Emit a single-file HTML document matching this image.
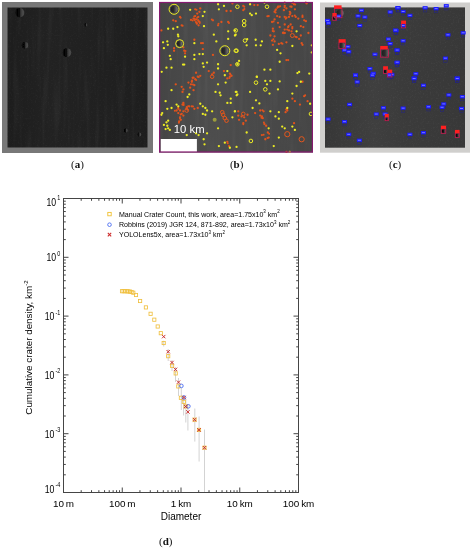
<!DOCTYPE html><html><head><meta charset="utf-8"><title>Crater figure</title><style>
html,body{margin:0;padding:0;background:#fff;}body{width:473px;height:550px;position:relative;overflow:hidden;}
svg{position:absolute;left:0;top:0;}
.cap{position:absolute;font-family:"Liberation Serif",serif;font-size:11px;color:#111;line-height:1;white-space:nowrap;}
.cap b{font-weight:bold;}
</style></head><body>
<svg width="473" height="550" viewBox="0 0 473 550">
<defs>
<radialGradient id="crA" cx="0.62" cy="0.5" r="0.6"><stop offset="0" stop-color="#5a5a5a"/><stop offset="0.55" stop-color="#3a3a3a"/><stop offset="1" stop-color="#232323" stop-opacity="0"/></radialGradient>
<linearGradient id="crS" x1="0" y1="0" x2="1" y2="0"><stop offset="0" stop-color="#141414"/><stop offset="0.2" stop-color="#050505"/><stop offset="0.45" stop-color="#0a0a0a"/><stop offset="0.6" stop-color="#363636"/><stop offset="0.85" stop-color="#4c4c4c"/><stop offset="1" stop-color="#404040"/></linearGradient>
<filter id="blur5" x="-30%" y="-30%" width="160%" height="160%"><feGaussianBlur stdDeviation="0.55"/></filter>
<linearGradient id="crC" x1="0" y1="0" x2="1" y2="0"><stop offset="0" stop-color="#000"/><stop offset="0.5" stop-color="#151515"/><stop offset="1" stop-color="#666"/></linearGradient>
<linearGradient id="crB" x1="0" y1="0" x2="1" y2="0"><stop offset="0" stop-color="#1e1e1e"/><stop offset="0.45" stop-color="#2c2c2c"/><stop offset="1" stop-color="#7a7a7a"/></linearGradient>
<linearGradient id="streakA" x1="0" y1="0" x2="1" y2="0"><stop offset="0" stop-color="#1d1d1d"/><stop offset="0.3" stop-color="#222"/><stop offset="0.5" stop-color="#212121"/><stop offset="0.7" stop-color="#202020"/><stop offset="1" stop-color="#1e1e1e"/></linearGradient>
<linearGradient id="streakB" x1="0" y1="0" x2="1" y2="0"><stop offset="0" stop-color="#454545"/><stop offset="0.35" stop-color="#4d4d4d"/><stop offset="0.55" stop-color="#4a4a4a"/><stop offset="1" stop-color="#464646"/></linearGradient>
<linearGradient id="streakC" x1="0" y1="0" x2="1" y2="0"><stop offset="0" stop-color="#373737"/><stop offset="0.35" stop-color="#3f3f3f"/><stop offset="0.55" stop-color="#3b3b3b"/><stop offset="1" stop-color="#383838"/></linearGradient>
<filter id="soft" x="-5%" y="-5%" width="110%" height="110%"><feGaussianBlur stdDeviation="0.35"/></filter>
<filter id="noiseV" x="0" y="0" width="100%" height="100%"><feTurbulence type="fractalNoise" baseFrequency="0.22 0.015" numOctaves="2" seed="3"/><feColorMatrix type="matrix" values="0 0 0 0 1  0 0 0 0 1  0 0 0 0 1  1.2 0 0 0 -0.55"/></filter>
<filter id="noiseF" x="0" y="0" width="100%" height="100%"><feTurbulence type="fractalNoise" baseFrequency="0.6" numOctaves="2" seed="9"/><feColorMatrix type="matrix" values="0 0 0 0 1  0 0 0 0 1  0 0 0 0 1  1.3 0 0 0 -0.7"/></filter>
</defs>
<rect x="2" y="2" width="151" height="151" fill="#787878"/>
<rect x="7.5" y="7.5" width="140" height="140" fill="url(#streakA)"/>
<rect x="7.5" y="7.5" width="140" height="140" filter="url(#noiseV)" opacity="0.07"/>
<rect x="7.5" y="7.5" width="140" height="140" filter="url(#noiseF)" opacity="0.08"/>
<circle cx="19.8" cy="12.7" r="4.6" fill="url(#crS)" filter="url(#blur5)"/>
<circle cx="25" cy="45.3" r="3.2" fill="url(#crS)" filter="url(#blur5)"/>
<circle cx="66.9" cy="52.6" r="4.4" fill="url(#crS)" filter="url(#blur5)"/>
<circle cx="85.7" cy="24.8" r="1.6" fill="url(#crS)" filter="url(#blur5)"/>
<circle cx="125.7" cy="130.4" r="2" fill="url(#crS)" filter="url(#blur5)"/>
<circle cx="139.2" cy="134.6" r="2" fill="url(#crS)" filter="url(#blur5)"/>
<rect x="159" y="2" width="154" height="150.5" fill="url(#streakB)"/>
<rect x="159" y="2" width="154" height="150.5" filter="url(#noiseV)" opacity="0.07"/>
<circle cx="174.1" cy="9.3" r="3.4" fill="url(#crB)"/>
<circle cx="179.6" cy="43.6" r="2.6" fill="url(#crB)"/>
<circle cx="224.8" cy="50.8" r="3.4" fill="url(#crB)"/>
<g filter="url(#soft)">
<circle cx="200.28" cy="8.46" r="1.15" fill="#e0521c"/>
<circle cx="199.44" cy="11.84" r="1.15" fill="#e0521c"/>
<circle cx="195.21" cy="9.3" r="1.15" fill="#e0521c"/>
<circle cx="196.52" cy="9.8" r="1.0" fill="#e0521c"/>
<circle cx="195.21" cy="16.07" r="1.15" fill="#e0521c"/>
<circle cx="194.24" cy="16.5" r="1.0" fill="#e0521c"/>
<circle cx="196.05" cy="19.45" r="1.15" fill="#e0521c"/>
<circle cx="194.58" cy="20.21" r="1.0" fill="#e0521c"/>
<circle cx="196.9" cy="23.68" r="1.15" fill="#e0521c"/>
<circle cx="198.59" cy="25.37" r="1.15" fill="#e0521c"/>
<circle cx="190.98" cy="19.96" r="1.15" fill="#e0521c"/>
<circle cx="192.6" cy="20.44" r="1.0" fill="#e0521c"/>
<circle cx="179.99" cy="16.91" r="1.15" fill="#e0521c"/>
<circle cx="180.66" cy="17.77" r="1.0" fill="#e0521c"/>
<circle cx="175.76" cy="21.14" r="1.15" fill="#e0521c"/>
<circle cx="173.22" cy="20.3" r="1.15" fill="#e0521c"/>
<circle cx="181.68" cy="25.37" r="1.15" fill="#e0521c"/>
<circle cx="182.65" cy="25.77" r="1.0" fill="#e0521c"/>
<circle cx="198.59" cy="21.14" r="1.15" fill="#e0521c"/>
<circle cx="198.02" cy="19.93" r="1.0" fill="#e0521c"/>
<circle cx="212.97" cy="20.3" r="1.15" fill="#e0521c"/>
<circle cx="211.8" cy="19.6" r="1.0" fill="#e0521c"/>
<circle cx="218.04" cy="25.37" r="1.15" fill="#e0521c"/>
<circle cx="218.47" cy="23.87" r="1.0" fill="#e0521c"/>
<circle cx="221.42" cy="21.99" r="1.15" fill="#e0521c"/>
<circle cx="226.5" cy="10.99" r="1.15" fill="#e0521c"/>
<circle cx="230.73" cy="10.99" r="1.15" fill="#e0521c"/>
<circle cx="228.19" cy="21.99" r="1.15" fill="#e0521c"/>
<circle cx="228.99" cy="23.12" r="1.0" fill="#e0521c"/>
<circle cx="194.36" cy="39.75" r="1.15" fill="#e0521c"/>
<circle cx="201.13" cy="43.13" r="1.15" fill="#e0521c"/>
<circle cx="202.82" cy="43.13" r="1.15" fill="#e0521c"/>
<circle cx="202.82" cy="49.05" r="1.15" fill="#e0521c"/>
<circle cx="174.07" cy="48.2" r="1.15" fill="#e0521c"/>
<circle cx="174.07" cy="50.74" r="1.15" fill="#e0521c"/>
<circle cx="183.37" cy="47.36" r="1.15" fill="#e0521c"/>
<circle cx="184.22" cy="50.74" r="1.15" fill="#e0521c"/>
<circle cx="185.57" cy="50.93" r="1.0" fill="#e0521c"/>
<circle cx="185.06" cy="53.28" r="1.15" fill="#e0521c"/>
<circle cx="212.97" cy="54.97" r="1.15" fill="#e0521c"/>
<circle cx="208.74" cy="71.04" r="1.15" fill="#e0521c"/>
<circle cx="212.12" cy="74.42" r="1.15" fill="#e0521c"/>
<circle cx="213.81" cy="72.73" r="1.15" fill="#e0521c"/>
<circle cx="223.96" cy="71.04" r="1.15" fill="#e0521c"/>
<circle cx="229.88" cy="73.57" r="1.15" fill="#e0521c"/>
<circle cx="230.55" cy="74.5" r="1.0" fill="#e0521c"/>
<circle cx="230.73" cy="65.12" r="1.15" fill="#e0521c"/>
<circle cx="196.05" cy="72.73" r="1.15" fill="#e0521c"/>
<circle cx="192.67" cy="77.8" r="1.15" fill="#e0521c"/>
<circle cx="232.42" cy="3.38" r="1.15" fill="#e0521c"/>
<circle cx="161.38" cy="30.44" r="1.15" fill="#e0521c"/>
<circle cx="197.24" cy="13.53" r="1.15" fill="#e0521c"/>
<circle cx="198.25" cy="16.91" r="1.15" fill="#e0521c"/>
<circle cx="197.22" cy="17.74" r="1.0" fill="#e0521c"/>
<circle cx="196.56" cy="22.83" r="1.15" fill="#e0521c"/>
<circle cx="195.86" cy="22.05" r="1.0" fill="#e0521c"/>
<circle cx="199.44" cy="21.99" r="1.15" fill="#e0521c"/>
<circle cx="199.73" cy="23.08" r="1.0" fill="#e0521c"/>
<circle cx="193.52" cy="18.6" r="1.15" fill="#e0521c"/>
<circle cx="194.46" cy="18.93" r="1.0" fill="#e0521c"/>
<circle cx="243.3" cy="5.92" r="1.15" fill="#e0521c"/>
<circle cx="244.34" cy="6.69" r="1.0" fill="#e0521c"/>
<circle cx="243.3" cy="10.15" r="1.15" fill="#e0521c"/>
<circle cx="244.35" cy="9.09" r="1.0" fill="#e0521c"/>
<circle cx="254.3" cy="5.07" r="1.15" fill="#e0521c"/>
<circle cx="257.68" cy="5.07" r="1.15" fill="#e0521c"/>
<circle cx="268.67" cy="16.07" r="1.15" fill="#e0521c"/>
<circle cx="267.32" cy="16.36" r="1.0" fill="#e0521c"/>
<circle cx="274.59" cy="11.84" r="1.15" fill="#e0521c"/>
<circle cx="275.61" cy="12.6" r="1.0" fill="#e0521c"/>
<circle cx="275.44" cy="10.15" r="1.15" fill="#e0521c"/>
<circle cx="275.97" cy="9.15" r="1.0" fill="#e0521c"/>
<circle cx="278.82" cy="6.77" r="1.15" fill="#e0521c"/>
<circle cx="280.18" cy="6.33" r="1.0" fill="#e0521c"/>
<circle cx="279.67" cy="16.91" r="1.15" fill="#e0521c"/>
<circle cx="277.13" cy="16.07" r="1.15" fill="#e0521c"/>
<circle cx="284.74" cy="5.92" r="1.15" fill="#e0521c"/>
<circle cx="284.65" cy="7.21" r="1.0" fill="#e0521c"/>
<circle cx="286.43" cy="8.46" r="1.15" fill="#e0521c"/>
<circle cx="283.89" cy="10.15" r="1.15" fill="#e0521c"/>
<circle cx="289.81" cy="11.84" r="1.15" fill="#e0521c"/>
<circle cx="289.81" cy="14.38" r="1.15" fill="#e0521c"/>
<circle cx="290.48" cy="12.93" r="1.0" fill="#e0521c"/>
<circle cx="291.51" cy="6.77" r="1.15" fill="#e0521c"/>
<circle cx="290.23" cy="6.62" r="1.0" fill="#e0521c"/>
<circle cx="294.04" cy="4.23" r="1.15" fill="#e0521c"/>
<circle cx="295.25" cy="4.44" r="1.0" fill="#e0521c"/>
<circle cx="294.89" cy="9.3" r="1.15" fill="#e0521c"/>
<circle cx="284.74" cy="16.91" r="1.15" fill="#e0521c"/>
<circle cx="286.43" cy="17.76" r="1.15" fill="#e0521c"/>
<circle cx="285.66" cy="18.64" r="1.0" fill="#e0521c"/>
<circle cx="288.97" cy="16.91" r="1.15" fill="#e0521c"/>
<circle cx="292.35" cy="16.07" r="1.15" fill="#e0521c"/>
<circle cx="295.73" cy="16.91" r="1.15" fill="#e0521c"/>
<circle cx="294.79" cy="15.57" r="1.0" fill="#e0521c"/>
<circle cx="298.27" cy="18.6" r="1.15" fill="#e0521c"/>
<circle cx="302.5" cy="16.91" r="1.15" fill="#e0521c"/>
<circle cx="302.5" cy="15.53" r="1.0" fill="#e0521c"/>
<circle cx="304.19" cy="20.3" r="1.15" fill="#e0521c"/>
<circle cx="305.88" cy="21.14" r="1.15" fill="#e0521c"/>
<circle cx="272.05" cy="21.99" r="1.15" fill="#e0521c"/>
<circle cx="273.55" cy="21.47" r="1.0" fill="#e0521c"/>
<circle cx="274.59" cy="19.45" r="1.15" fill="#e0521c"/>
<circle cx="277.97" cy="22.83" r="1.15" fill="#e0521c"/>
<circle cx="272.9" cy="28.75" r="1.15" fill="#e0521c"/>
<circle cx="273.75" cy="31.29" r="1.15" fill="#e0521c"/>
<circle cx="272.69" cy="30.96" r="1.0" fill="#e0521c"/>
<circle cx="279.67" cy="27.06" r="1.15" fill="#e0521c"/>
<circle cx="284.74" cy="24.52" r="1.15" fill="#e0521c"/>
<circle cx="288.12" cy="27.06" r="1.15" fill="#e0521c"/>
<circle cx="288.66" cy="26.02" r="1.0" fill="#e0521c"/>
<circle cx="290.66" cy="24.52" r="1.15" fill="#e0521c"/>
<circle cx="292.35" cy="27.06" r="1.15" fill="#e0521c"/>
<circle cx="292.27" cy="28.39" r="1.0" fill="#e0521c"/>
<circle cx="300.81" cy="26.22" r="1.15" fill="#e0521c"/>
<circle cx="303.34" cy="27.06" r="1.15" fill="#e0521c"/>
<circle cx="284.74" cy="29.6" r="1.15" fill="#e0521c"/>
<circle cx="287.28" cy="29.6" r="1.15" fill="#e0521c"/>
<circle cx="288.97" cy="30.44" r="1.15" fill="#e0521c"/>
<circle cx="291.51" cy="31.29" r="1.15" fill="#e0521c"/>
<circle cx="283.05" cy="32.98" r="1.15" fill="#e0521c"/>
<circle cx="284.74" cy="32.98" r="1.15" fill="#e0521c"/>
<circle cx="283.21" cy="32.43" r="1.0" fill="#e0521c"/>
<circle cx="296.58" cy="37.21" r="1.15" fill="#e0521c"/>
<circle cx="295.47" cy="36.77" r="1.0" fill="#e0521c"/>
<circle cx="299.12" cy="38.9" r="1.15" fill="#e0521c"/>
<circle cx="300.81" cy="35.52" r="1.15" fill="#e0521c"/>
<circle cx="308.42" cy="32.98" r="1.15" fill="#e0521c"/>
<circle cx="270.36" cy="35.52" r="1.15" fill="#e0521c"/>
<circle cx="274.59" cy="36.36" r="1.15" fill="#e0521c"/>
<circle cx="272.05" cy="40.59" r="1.15" fill="#e0521c"/>
<circle cx="273.31" cy="39.36" r="1.0" fill="#e0521c"/>
<circle cx="274.59" cy="41.44" r="1.15" fill="#e0521c"/>
<circle cx="278.82" cy="43.97" r="1.15" fill="#e0521c"/>
<circle cx="281.36" cy="43.13" r="1.15" fill="#e0521c"/>
<circle cx="282.43" cy="43.65" r="1.0" fill="#e0521c"/>
<circle cx="286.43" cy="42.28" r="1.15" fill="#e0521c"/>
<circle cx="272.9" cy="44.82" r="1.15" fill="#e0521c"/>
<circle cx="288.12" cy="60.04" r="1.15" fill="#e0521c"/>
<circle cx="286.43" cy="60.04" r="1.15" fill="#e0521c"/>
<circle cx="301.65" cy="43.13" r="1.15" fill="#e0521c"/>
<circle cx="302.5" cy="44.82" r="1.15" fill="#e0521c"/>
<circle cx="277.97" cy="6.77" r="1.15" fill="#e0521c"/>
<circle cx="277.36" cy="7.75" r="1.0" fill="#e0521c"/>
<circle cx="284.74" cy="2.54" r="1.15" fill="#e0521c"/>
<circle cx="293.2" cy="2.54" r="1.15" fill="#e0521c"/>
<circle cx="292.25" cy="2.91" r="1.0" fill="#e0521c"/>
<circle cx="306.73" cy="3.38" r="1.15" fill="#e0521c"/>
<circle cx="305.72" cy="2.39" r="1.0" fill="#e0521c"/>
<circle cx="193.52" cy="77.54" r="1.15" fill="#e0521c"/>
<circle cx="195.21" cy="79.23" r="1.15" fill="#e0521c"/>
<circle cx="196.17" cy="79.97" r="1.0" fill="#e0521c"/>
<circle cx="191.83" cy="81.77" r="1.15" fill="#e0521c"/>
<circle cx="192.05" cy="80.57" r="1.0" fill="#e0521c"/>
<circle cx="188.44" cy="82.61" r="1.15" fill="#e0521c"/>
<circle cx="190.98" cy="84.3" r="1.15" fill="#e0521c"/>
<circle cx="194.36" cy="85.15" r="1.15" fill="#e0521c"/>
<circle cx="192.95" cy="84.48" r="1.0" fill="#e0521c"/>
<circle cx="190.14" cy="87.68" r="1.15" fill="#e0521c"/>
<circle cx="193.52" cy="90.22" r="1.15" fill="#e0521c"/>
<circle cx="181.68" cy="86.84" r="1.15" fill="#e0521c"/>
<circle cx="183.37" cy="89.38" r="1.15" fill="#e0521c"/>
<circle cx="182.52" cy="91.91" r="1.15" fill="#e0521c"/>
<circle cx="175.76" cy="84.3" r="1.15" fill="#e0521c"/>
<circle cx="183.37" cy="102.91" r="1.15" fill="#e0521c"/>
<circle cx="183.45" cy="103.99" r="1.0" fill="#e0521c"/>
<circle cx="182.52" cy="104.6" r="1.15" fill="#e0521c"/>
<circle cx="183.63" cy="104.96" r="1.0" fill="#e0521c"/>
<circle cx="186.75" cy="107.14" r="1.15" fill="#e0521c"/>
<circle cx="186.21" cy="108.65" r="1.0" fill="#e0521c"/>
<circle cx="189.29" cy="106.29" r="1.15" fill="#e0521c"/>
<circle cx="188.15" cy="106.29" r="1.0" fill="#e0521c"/>
<circle cx="191.83" cy="106.29" r="1.15" fill="#e0521c"/>
<circle cx="193.02" cy="106.43" r="1.0" fill="#e0521c"/>
<circle cx="178.3" cy="108.83" r="1.15" fill="#e0521c"/>
<circle cx="178.14" cy="107.39" r="1.0" fill="#e0521c"/>
<circle cx="176.6" cy="110.52" r="1.15" fill="#e0521c"/>
<circle cx="174.88" cy="110.79" r="1.0" fill="#e0521c"/>
<circle cx="179.99" cy="110.52" r="1.15" fill="#e0521c"/>
<circle cx="183.37" cy="111.36" r="1.15" fill="#e0521c"/>
<circle cx="187.6" cy="109.67" r="1.15" fill="#e0521c"/>
<circle cx="186.92" cy="108.02" r="1.0" fill="#e0521c"/>
<circle cx="178.3" cy="113.05" r="1.15" fill="#e0521c"/>
<circle cx="181.68" cy="113.9" r="1.15" fill="#e0521c"/>
<circle cx="180.62" cy="114.62" r="1.0" fill="#e0521c"/>
<circle cx="183.37" cy="115.59" r="1.15" fill="#e0521c"/>
<circle cx="179.99" cy="117.28" r="1.15" fill="#e0521c"/>
<circle cx="179.95" cy="118.41" r="1.0" fill="#e0521c"/>
<circle cx="180.83" cy="119.82" r="1.15" fill="#e0521c"/>
<circle cx="179.14" cy="121.51" r="1.15" fill="#e0521c"/>
<circle cx="178.9" cy="122.68" r="1.0" fill="#e0521c"/>
<circle cx="194.36" cy="108.83" r="1.15" fill="#e0521c"/>
<circle cx="197.75" cy="107.98" r="1.15" fill="#e0521c"/>
<circle cx="227.34" cy="78.38" r="1.15" fill="#e0521c"/>
<circle cx="229.88" cy="76.69" r="1.15" fill="#e0521c"/>
<circle cx="229.41" cy="77.89" r="1.0" fill="#e0521c"/>
<circle cx="231.57" cy="75.85" r="1.15" fill="#e0521c"/>
<circle cx="227.34" cy="141.81" r="1.15" fill="#e0521c"/>
<circle cx="227.77" cy="143.15" r="1.0" fill="#e0521c"/>
<circle cx="229.04" cy="146.04" r="1.15" fill="#e0521c"/>
<circle cx="197.75" cy="76.69" r="1.15" fill="#e0521c"/>
<circle cx="198.73" cy="76.95" r="1.0" fill="#e0521c"/>
<circle cx="200.28" cy="75.85" r="1.15" fill="#e0521c"/>
<circle cx="302.5" cy="81.77" r="1.15" fill="#e0521c"/>
<circle cx="304.19" cy="96.14" r="1.15" fill="#e0521c"/>
<circle cx="305.14" cy="95.24" r="1.0" fill="#e0521c"/>
<circle cx="307.57" cy="101.22" r="1.15" fill="#e0521c"/>
<circle cx="292.35" cy="98.68" r="1.15" fill="#e0521c"/>
<circle cx="294.89" cy="101.22" r="1.15" fill="#e0521c"/>
<circle cx="299.96" cy="104.6" r="1.15" fill="#e0521c"/>
<circle cx="286.43" cy="109.67" r="1.15" fill="#e0521c"/>
<circle cx="285.59" cy="112.21" r="1.15" fill="#e0521c"/>
<circle cx="287.28" cy="110.52" r="1.15" fill="#e0521c"/>
<circle cx="286.64" cy="109.1" r="1.0" fill="#e0521c"/>
<circle cx="238.23" cy="111.36" r="1.15" fill="#e0521c"/>
<circle cx="238.23" cy="115.59" r="1.15" fill="#e0521c"/>
<circle cx="239.07" cy="119.82" r="1.15" fill="#e0521c"/>
<circle cx="241.61" cy="116.44" r="1.15" fill="#e0521c"/>
<circle cx="244.15" cy="117.28" r="1.15" fill="#e0521c"/>
<circle cx="245.84" cy="120.67" r="1.15" fill="#e0521c"/>
<circle cx="243.3" cy="123.2" r="1.15" fill="#e0521c"/>
<circle cx="243.29" cy="124.26" r="1.0" fill="#e0521c"/>
<circle cx="247.53" cy="114.75" r="1.15" fill="#e0521c"/>
<circle cx="255.14" cy="113.05" r="1.15" fill="#e0521c"/>
<circle cx="260.22" cy="110.52" r="1.15" fill="#e0521c"/>
<circle cx="263.6" cy="111.36" r="1.15" fill="#e0521c"/>
<circle cx="262.47" cy="110.35" r="1.0" fill="#e0521c"/>
<circle cx="260.22" cy="115.59" r="1.15" fill="#e0521c"/>
<circle cx="261.91" cy="116.44" r="1.15" fill="#e0521c"/>
<circle cx="261.42" cy="117.81" r="1.0" fill="#e0521c"/>
<circle cx="262.75" cy="118.13" r="1.15" fill="#e0521c"/>
<circle cx="264.44" cy="124.05" r="1.15" fill="#e0521c"/>
<circle cx="263.9" cy="122.61" r="1.0" fill="#e0521c"/>
<circle cx="266.14" cy="125.74" r="1.15" fill="#e0521c"/>
<circle cx="267.83" cy="132.51" r="1.15" fill="#e0521c"/>
<circle cx="269.09" cy="133.67" r="1.0" fill="#e0521c"/>
<circle cx="261.91" cy="135.04" r="1.15" fill="#e0521c"/>
<circle cx="263.64" cy="134.8" r="1.0" fill="#e0521c"/>
<circle cx="265.29" cy="139.27" r="1.15" fill="#e0521c"/>
<circle cx="268.67" cy="137.58" r="1.15" fill="#e0521c"/>
<circle cx="267.52" cy="137.96" r="1.0" fill="#e0521c"/>
<circle cx="294.04" cy="123.2" r="1.15" fill="#e0521c"/>
<circle cx="286.43" cy="151.96" r="1.15" fill="#e0521c"/>
<circle cx="190.14" cy="9.81" r="1.15" fill="#ecec24"/>
<circle cx="204.51" cy="11.84" r="1.15" fill="#ecec24"/>
<circle cx="202.82" cy="16.07" r="1.15" fill="#ecec24"/>
<circle cx="218.04" cy="4.23" r="1.15" fill="#ecec24"/>
<circle cx="223.96" cy="5.92" r="1.15" fill="#ecec24"/>
<circle cx="218.89" cy="9.3" r="1.15" fill="#ecec24"/>
<circle cx="204" cy="26.22" r="1.15" fill="#ecec24"/>
<circle cx="168.15" cy="28.75" r="1.15" fill="#ecec24"/>
<circle cx="173.22" cy="28.75" r="1.15" fill="#ecec24"/>
<circle cx="177.45" cy="27.06" r="1.15" fill="#ecec24"/>
<circle cx="177.96" cy="34.67" r="1.15" fill="#ecec24"/>
<circle cx="178.3" cy="36.36" r="1.15" fill="#ecec24"/>
<circle cx="163.07" cy="42.28" r="1.15" fill="#ecec24"/>
<circle cx="167.3" cy="41.44" r="1.15" fill="#ecec24"/>
<circle cx="163.92" cy="48.2" r="1.15" fill="#ecec24"/>
<circle cx="167.81" cy="44.82" r="1.15" fill="#ecec24"/>
<circle cx="194.36" cy="43.13" r="1.15" fill="#ecec24"/>
<circle cx="213.81" cy="34.67" r="1.15" fill="#ecec24"/>
<circle cx="216.35" cy="41.44" r="1.15" fill="#ecec24"/>
<circle cx="228.19" cy="31.29" r="1.15" fill="#ecec24"/>
<circle cx="234.96" cy="30.44" r="1.15" fill="#ecec24"/>
<circle cx="228.19" cy="38.9" r="1.15" fill="#ecec24"/>
<circle cx="234.96" cy="35.52" r="1.15" fill="#ecec24"/>
<circle cx="169.84" cy="55.81" r="1.15" fill="#ecec24"/>
<circle cx="170.68" cy="59.2" r="1.15" fill="#ecec24"/>
<circle cx="185.06" cy="56.66" r="1.15" fill="#ecec24"/>
<circle cx="194.36" cy="54.97" r="1.15" fill="#ecec24"/>
<circle cx="202.82" cy="54.12" r="1.15" fill="#ecec24"/>
<circle cx="199.44" cy="54.12" r="1.15" fill="#ecec24"/>
<circle cx="194.36" cy="59.2" r="1.15" fill="#ecec24"/>
<circle cx="207.05" cy="62.58" r="1.15" fill="#ecec24"/>
<circle cx="202.82" cy="63.42" r="1.15" fill="#ecec24"/>
<circle cx="183.03" cy="64.61" r="1.15" fill="#ecec24"/>
<circle cx="184.22" cy="64.61" r="1.15" fill="#ecec24"/>
<circle cx="218.04" cy="64.27" r="1.15" fill="#ecec24"/>
<circle cx="218.04" cy="68.5" r="1.15" fill="#ecec24"/>
<circle cx="237.49" cy="64.27" r="1.15" fill="#ecec24"/>
<circle cx="166.46" cy="67.65" r="1.15" fill="#ecec24"/>
<circle cx="171.53" cy="67.65" r="1.15" fill="#ecec24"/>
<circle cx="203.67" cy="66.81" r="1.15" fill="#ecec24"/>
<circle cx="227.34" cy="71.04" r="1.15" fill="#ecec24"/>
<circle cx="224.81" cy="75.26" r="1.15" fill="#ecec24"/>
<circle cx="161.7" cy="71.8" r="1.15" fill="#ecec24"/>
<circle cx="250.07" cy="4.23" r="1.15" fill="#ecec24"/>
<circle cx="250.07" cy="13.53" r="1.15" fill="#ecec24"/>
<circle cx="251.76" cy="15.22" r="1.15" fill="#ecec24"/>
<circle cx="255.99" cy="13.53" r="1.15" fill="#ecec24"/>
<circle cx="235.69" cy="34.67" r="1.15" fill="#ecec24"/>
<circle cx="247.19" cy="39.24" r="1.15" fill="#ecec24"/>
<circle cx="255.65" cy="39.75" r="1.15" fill="#ecec24"/>
<circle cx="261.91" cy="41.44" r="1.15" fill="#ecec24"/>
<circle cx="246.68" cy="45.33" r="1.15" fill="#ecec24"/>
<circle cx="255.99" cy="45.33" r="1.15" fill="#ecec24"/>
<circle cx="260.72" cy="45.33" r="1.15" fill="#ecec24"/>
<circle cx="277.13" cy="49.89" r="1.15" fill="#ecec24"/>
<circle cx="280.51" cy="53.28" r="1.15" fill="#ecec24"/>
<circle cx="239.07" cy="60.89" r="1.15" fill="#ecec24"/>
<circle cx="279.67" cy="61.73" r="1.15" fill="#ecec24"/>
<circle cx="292.35" cy="46" r="1.15" fill="#ecec24"/>
<circle cx="296.58" cy="31.29" r="1.15" fill="#ecec24"/>
<circle cx="311.8" cy="45.33" r="1.15" fill="#ecec24"/>
<circle cx="311.8" cy="52.43" r="1.15" fill="#ecec24"/>
<circle cx="264.44" cy="69.68" r="1.15" fill="#ecec24"/>
<circle cx="270.36" cy="69.68" r="1.15" fill="#ecec24"/>
<circle cx="297.42" cy="73.07" r="1.15" fill="#ecec24"/>
<circle cx="299.12" cy="71.88" r="1.15" fill="#ecec24"/>
<circle cx="309.26" cy="73.57" r="1.15" fill="#ecec24"/>
<circle cx="256.83" cy="76.96" r="1.15" fill="#ecec24"/>
<circle cx="264.44" cy="2.54" r="1.15" fill="#ecec24"/>
<circle cx="171.53" cy="90.22" r="1.15" fill="#ecec24"/>
<circle cx="165.61" cy="101.22" r="1.15" fill="#ecec24"/>
<circle cx="187.6" cy="96.99" r="1.15" fill="#ecec24"/>
<circle cx="189.29" cy="94.45" r="1.15" fill="#ecec24"/>
<circle cx="176.6" cy="104.6" r="1.15" fill="#ecec24"/>
<circle cx="178.3" cy="106.29" r="1.15" fill="#ecec24"/>
<circle cx="200.28" cy="103.75" r="1.15" fill="#ecec24"/>
<circle cx="202.82" cy="106.29" r="1.15" fill="#ecec24"/>
<circle cx="205.36" cy="107.98" r="1.15" fill="#ecec24"/>
<circle cx="207.05" cy="110.52" r="1.15" fill="#ecec24"/>
<circle cx="212.12" cy="111.36" r="1.15" fill="#ecec24"/>
<circle cx="167.3" cy="108.83" r="1.15" fill="#ecec24"/>
<circle cx="171.53" cy="107.98" r="1.15" fill="#ecec24"/>
<circle cx="162.23" cy="113.05" r="1.15" fill="#ecec24"/>
<circle cx="161.38" cy="114.75" r="1.15" fill="#ecec24"/>
<circle cx="202.82" cy="113.9" r="1.15" fill="#ecec24"/>
<circle cx="205.36" cy="114.75" r="1.15" fill="#ecec24"/>
<circle cx="168.15" cy="120.67" r="1.15" fill="#ecec24"/>
<circle cx="166.46" cy="122.36" r="1.15" fill="#ecec24"/>
<circle cx="163.92" cy="124.89" r="1.15" fill="#ecec24"/>
<circle cx="167.3" cy="125.74" r="1.15" fill="#ecec24"/>
<circle cx="165.61" cy="129.12" r="1.15" fill="#ecec24"/>
<circle cx="168.15" cy="128.28" r="1.15" fill="#ecec24"/>
<circle cx="169.84" cy="129.97" r="1.15" fill="#ecec24"/>
<circle cx="218.04" cy="84.3" r="1.15" fill="#ecec24"/>
<circle cx="225.65" cy="82.61" r="1.15" fill="#ecec24"/>
<circle cx="215.51" cy="91.91" r="1.15" fill="#ecec24"/>
<circle cx="219.73" cy="92.76" r="1.15" fill="#ecec24"/>
<circle cx="220.58" cy="95.3" r="1.15" fill="#ecec24"/>
<circle cx="235.8" cy="91.91" r="1.15" fill="#ecec24"/>
<circle cx="236.65" cy="95.3" r="1.15" fill="#ecec24"/>
<circle cx="230.73" cy="98.68" r="1.15" fill="#ecec24"/>
<circle cx="227.34" cy="102.91" r="1.15" fill="#ecec24"/>
<circle cx="230.73" cy="102.91" r="1.15" fill="#ecec24"/>
<circle cx="232.42" cy="117.28" r="1.15" fill="#ecec24"/>
<circle cx="234.96" cy="111.36" r="1.15" fill="#ecec24"/>
<circle cx="218.04" cy="128.28" r="1.15" fill="#ecec24"/>
<circle cx="196.05" cy="133.35" r="1.15" fill="#ecec24"/>
<circle cx="198.59" cy="135.04" r="1.15" fill="#ecec24"/>
<circle cx="207.05" cy="133.35" r="1.15" fill="#ecec24"/>
<circle cx="203.67" cy="139.27" r="1.15" fill="#ecec24"/>
<circle cx="204.51" cy="144.34" r="1.15" fill="#ecec24"/>
<circle cx="218.89" cy="146.04" r="1.15" fill="#ecec24"/>
<circle cx="224.81" cy="142.65" r="1.15" fill="#ecec24"/>
<circle cx="229.88" cy="147.73" r="1.15" fill="#ecec24"/>
<circle cx="186.75" cy="135.04" r="1.15" fill="#ecec24"/>
<circle cx="256.83" cy="76.69" r="1.15" fill="#ecec24"/>
<circle cx="265.29" cy="80.92" r="1.15" fill="#ecec24"/>
<circle cx="270.36" cy="80.92" r="1.15" fill="#ecec24"/>
<circle cx="279.67" cy="81.43" r="1.15" fill="#ecec24"/>
<circle cx="266.98" cy="84.3" r="1.15" fill="#ecec24"/>
<circle cx="269.52" cy="93.6" r="1.15" fill="#ecec24"/>
<circle cx="250.07" cy="91.91" r="1.15" fill="#ecec24"/>
<circle cx="236.54" cy="91.91" r="1.15" fill="#ecec24"/>
<circle cx="237.38" cy="94.45" r="1.15" fill="#ecec24"/>
<circle cx="277.97" cy="89.38" r="1.15" fill="#ecec24"/>
<circle cx="255.99" cy="100.37" r="1.15" fill="#ecec24"/>
<circle cx="259.37" cy="103.41" r="1.15" fill="#ecec24"/>
<circle cx="252.6" cy="107.98" r="1.15" fill="#ecec24"/>
<circle cx="270.36" cy="111.36" r="1.15" fill="#ecec24"/>
<circle cx="275.44" cy="116.44" r="1.15" fill="#ecec24"/>
<circle cx="278.82" cy="112.21" r="1.15" fill="#ecec24"/>
<circle cx="278.82" cy="118.64" r="1.15" fill="#ecec24"/>
<circle cx="234.85" cy="111.36" r="1.15" fill="#ecec24"/>
<circle cx="287.28" cy="101.22" r="1.15" fill="#ecec24"/>
<circle cx="292.35" cy="93.6" r="1.15" fill="#ecec24"/>
<circle cx="287.28" cy="107.98" r="1.15" fill="#ecec24"/>
<circle cx="296.58" cy="85.99" r="1.15" fill="#ecec24"/>
<circle cx="300.81" cy="81.77" r="1.15" fill="#ecec24"/>
<circle cx="310.11" cy="103.75" r="1.15" fill="#ecec24"/>
<circle cx="284.74" cy="128.28" r="1.15" fill="#ecec24"/>
<circle cx="282.2" cy="126.59" r="1.15" fill="#ecec24"/>
<circle cx="292.35" cy="126.59" r="1.15" fill="#ecec24"/>
<circle cx="294.89" cy="129.97" r="1.15" fill="#ecec24"/>
<circle cx="268.67" cy="128.28" r="1.15" fill="#ecec24"/>
<circle cx="246.68" cy="132.51" r="1.15" fill="#ecec24"/>
<circle cx="236.54" cy="146.88" r="1.15" fill="#ecec24"/>
<circle cx="273.75" cy="146.04" r="1.15" fill="#ecec24"/>
<circle cx="278.82" cy="137.58" r="1.15" fill="#ecec24"/>
<circle cx="289.81" cy="151.96" r="1.15" fill="#ecec24"/>
<circle cx="174.07" cy="9.3" r="5" fill="none" stroke="#ecec24" stroke-width="1.0"/>
<circle cx="179.65" cy="43.64" r="4" fill="none" stroke="#ecec24" stroke-width="1.0"/>
<circle cx="224.81" cy="50.74" r="5" fill="none" stroke="#ecec24" stroke-width="1.0"/>
<circle cx="235.8" cy="50.74" r="1.8" fill="none" stroke="#ecec24" stroke-width="1.0"/>
<circle cx="237.38" cy="6.77" r="1.8" fill="none" stroke="#ecec24" stroke-width="1.0"/>
<circle cx="266.98" cy="6.77" r="1.8" fill="none" stroke="#ecec24" stroke-width="1.0"/>
<circle cx="244.15" cy="21.14" r="1.8" fill="none" stroke="#ecec24" stroke-width="1.0"/>
<circle cx="244.15" cy="25.03" r="1.8" fill="none" stroke="#ecec24" stroke-width="1.0"/>
<circle cx="235.69" cy="30.44" r="1.8" fill="none" stroke="#ecec24" stroke-width="1.0"/>
<circle cx="244.99" cy="40.59" r="1.8" fill="none" stroke="#ecec24" stroke-width="1.0"/>
<circle cx="236.54" cy="50.74" r="1.8" fill="none" stroke="#ecec24" stroke-width="1.0"/>
<circle cx="237.38" cy="64.27" r="1.8" fill="none" stroke="#ecec24" stroke-width="1.0"/>
<circle cx="292.35" cy="35.52" r="2" fill="none" stroke="#e4561c" stroke-width="1.0"/>
<circle cx="186.75" cy="110.52" r="1.8" fill="none" stroke="#e4561c" stroke-width="1.0"/>
<circle cx="222.27" cy="112.21" r="1.8" fill="none" stroke="#e4561c" stroke-width="1.0"/>
<circle cx="223.12" cy="114.75" r="1.8" fill="none" stroke="#e4561c" stroke-width="1.0"/>
<circle cx="224.81" cy="118.13" r="1.8" fill="none" stroke="#e4561c" stroke-width="1.0"/>
<circle cx="226.5" cy="120.67" r="1.8" fill="none" stroke="#e4561c" stroke-width="1.0"/>
<circle cx="212.12" cy="76.69" r="1.8" fill="none" stroke="#e4561c" stroke-width="1.0"/>
<circle cx="255.99" cy="82.61" r="1.8" fill="none" stroke="#ecec24" stroke-width="1.0"/>
<circle cx="265.29" cy="89.38" r="1.8" fill="none" stroke="#ecec24" stroke-width="1.0"/>
<circle cx="310.96" cy="113.9" r="1.8" fill="none" stroke="#ecec24" stroke-width="1.0"/>
<circle cx="250.91" cy="140.96" r="1.8" fill="none" stroke="#ecec24" stroke-width="1.0"/>
<circle cx="243.3" cy="113.9" r="1.8" fill="none" stroke="#e4561c" stroke-width="1.0"/>
<circle cx="287.28" cy="134.2" r="2.6" fill="none" stroke="#e4561c" stroke-width="1.0"/>
<circle cx="301.65" cy="139.27" r="2.6" fill="none" stroke="#e4561c" stroke-width="1.0"/>
</g>
<circle cx="214.66" cy="119.82" r="2" fill="#9c9c3c"/>
<rect x="160.7" y="139" width="36.2" height="13" fill="#fff"/>
<text x="173.8" y="133.4" font-family="Liberation Sans, sans-serif" font-size="11.3" fill="#fff">10 km</text>
<rect x="159.6" y="2.5" width="152.8" height="149.5" fill="none" stroke="#861a70" stroke-width="1.2"/>
<rect x="320" y="2.5" width="150" height="150.2" fill="#d0cfcd"/>
<rect x="325" y="7.4" width="140" height="140.3" fill="url(#streakC)"/>
<rect x="325" y="7.4" width="140" height="140.3" filter="url(#noiseF)" opacity="0.10"/>
<circle cx="340" cy="13" r="3.5" fill="url(#crB)"/>
<circle cx="342.1" cy="45.5" r="3" fill="url(#crB)"/>
<circle cx="385.5" cy="53.1" r="3.8" fill="url(#crB)"/>
<circle cx="385.5" cy="71.5" r="1.7" fill="url(#crC)"/>
<circle cx="389.8" cy="74.8" r="1.6" fill="url(#crC)"/>
<circle cx="443.5" cy="131.1" r="1.9" fill="url(#crC)"/>
<circle cx="457.2" cy="135.3" r="1.9" fill="url(#crC)"/>
<circle cx="386.8" cy="118.9" r="1.5" fill="url(#crC)"/>
<circle cx="403.6" cy="25.8" r="1.5" fill="url(#crC)"/>
<circle cx="334.5" cy="18.2" r="1.5" fill="url(#crC)"/>
<rect x="325.91" y="22.04" width="3.4" height="2.6" fill="none" stroke="#1a1aa8" stroke-width="0.5" opacity="0.7"/>
<rect x="325.11" y="18.84" width="5" height="3.2" fill="#1c1cff"/>
<rect x="326.11" y="19.94" width="3" height="1" fill="#7a7aff"/>
<rect x="326.76" y="24.58" width="3.4" height="2.6" fill="none" stroke="#1a1aa8" stroke-width="0.5" opacity="0.7"/>
<rect x="325.96" y="21.38" width="5" height="3.2" fill="#1c1cff"/>
<rect x="326.96" y="22.48" width="3" height="1" fill="#7a7aff"/>
<rect x="336.9" y="17.81" width="3.4" height="2.6" fill="none" stroke="#1a1aa8" stroke-width="0.5" opacity="0.7"/>
<rect x="336.1" y="14.61" width="5" height="3.2" fill="#1c1cff"/>
<rect x="337.1" y="15.71" width="3" height="1" fill="#7a7aff"/>
<rect x="356.35" y="17.48" width="3.4" height="2.6" fill="none" stroke="#1a1aa8" stroke-width="0.5" opacity="0.7"/>
<rect x="355.55" y="14.28" width="5" height="3.2" fill="#1c1cff"/>
<rect x="356.55" y="15.38" width="3" height="1" fill="#7a7aff"/>
<rect x="359.74" y="11.89" width="3.4" height="2.6" fill="none" stroke="#1a1aa8" stroke-width="0.5" opacity="0.7"/>
<rect x="358.94" y="8.69" width="5" height="3.2" fill="#1c1cff"/>
<rect x="359.94" y="9.79" width="3" height="1" fill="#7a7aff"/>
<rect x="363.12" y="18.66" width="3.4" height="2.6" fill="none" stroke="#1a1aa8" stroke-width="0.5" opacity="0.7"/>
<rect x="362.32" y="15.46" width="5" height="3.2" fill="#1c1cff"/>
<rect x="363.32" y="16.56" width="3" height="1" fill="#7a7aff"/>
<rect x="358.05" y="27.12" width="3.4" height="2.6" fill="none" stroke="#1a1aa8" stroke-width="0.5" opacity="0.7"/>
<rect x="357.25" y="23.92" width="5" height="3.2" fill="#1c1cff"/>
<rect x="358.25" y="25.02" width="3" height="1" fill="#7a7aff"/>
<rect x="388.49" y="13.58" width="3.4" height="2.6" fill="none" stroke="#1a1aa8" stroke-width="0.5" opacity="0.7"/>
<rect x="387.69" y="10.38" width="5" height="3.2" fill="#1c1cff"/>
<rect x="388.69" y="11.48" width="3" height="1" fill="#7a7aff"/>
<rect x="396.1" y="9.36" width="3.4" height="2.6" fill="none" stroke="#1a1aa8" stroke-width="0.5" opacity="0.7"/>
<rect x="395.3" y="6.16" width="5" height="3.2" fill="#1c1cff"/>
<rect x="396.3" y="7.26" width="3" height="1" fill="#7a7aff"/>
<rect x="346.21" y="48.26" width="3.4" height="2.6" fill="none" stroke="#1a1aa8" stroke-width="0.5" opacity="0.7"/>
<rect x="345.41" y="45.06" width="5" height="3.2" fill="#1c1cff"/>
<rect x="346.41" y="46.16" width="3" height="1" fill="#7a7aff"/>
<rect x="342.82" y="51.64" width="3.4" height="2.6" fill="none" stroke="#1a1aa8" stroke-width="0.5" opacity="0.7"/>
<rect x="342.02" y="48.44" width="5" height="3.2" fill="#1c1cff"/>
<rect x="343.02" y="49.54" width="3" height="1" fill="#7a7aff"/>
<rect x="347.05" y="53.33" width="3.4" height="2.6" fill="none" stroke="#1a1aa8" stroke-width="0.5" opacity="0.7"/>
<rect x="346.25" y="50.13" width="5" height="3.2" fill="#1c1cff"/>
<rect x="347.25" y="51.23" width="3" height="1" fill="#7a7aff"/>
<rect x="373.27" y="55.87" width="3.4" height="2.6" fill="none" stroke="#1a1aa8" stroke-width="0.5" opacity="0.7"/>
<rect x="372.47" y="52.67" width="5" height="3.2" fill="#1c1cff"/>
<rect x="373.47" y="53.77" width="3" height="1" fill="#7a7aff"/>
<rect x="386.8" y="40.65" width="3.4" height="2.6" fill="none" stroke="#1a1aa8" stroke-width="0.5" opacity="0.7"/>
<rect x="386" y="37.45" width="5" height="3.2" fill="#1c1cff"/>
<rect x="387" y="38.55" width="3" height="1" fill="#7a7aff"/>
<rect x="388.49" y="45.21" width="3.4" height="2.6" fill="none" stroke="#1a1aa8" stroke-width="0.5" opacity="0.7"/>
<rect x="387.69" y="42.01" width="5" height="3.2" fill="#1c1cff"/>
<rect x="388.69" y="43.11" width="3" height="1" fill="#7a7aff"/>
<rect x="394.41" y="32.19" width="3.4" height="2.6" fill="none" stroke="#1a1aa8" stroke-width="0.5" opacity="0.7"/>
<rect x="393.61" y="28.99" width="5" height="3.2" fill="#1c1cff"/>
<rect x="394.61" y="30.09" width="3" height="1" fill="#7a7aff"/>
<rect x="395.26" y="51.64" width="3.4" height="2.6" fill="none" stroke="#1a1aa8" stroke-width="0.5" opacity="0.7"/>
<rect x="394.46" y="48.44" width="5" height="3.2" fill="#1c1cff"/>
<rect x="395.46" y="49.54" width="3" height="1" fill="#7a7aff"/>
<rect x="395.26" y="64.32" width="3.4" height="2.6" fill="none" stroke="#1a1aa8" stroke-width="0.5" opacity="0.7"/>
<rect x="394.46" y="61.12" width="5" height="3.2" fill="#1c1cff"/>
<rect x="395.46" y="62.22" width="3" height="1" fill="#7a7aff"/>
<rect x="368.19" y="70.24" width="3.4" height="2.6" fill="none" stroke="#1a1aa8" stroke-width="0.5" opacity="0.7"/>
<rect x="367.39" y="67.04" width="5" height="3.2" fill="#1c1cff"/>
<rect x="368.39" y="68.14" width="3" height="1" fill="#7a7aff"/>
<rect x="371.58" y="74.98" width="3.4" height="2.6" fill="none" stroke="#1a1aa8" stroke-width="0.5" opacity="0.7"/>
<rect x="370.78" y="71.78" width="5" height="3.2" fill="#1c1cff"/>
<rect x="371.78" y="72.88" width="3" height="1" fill="#7a7aff"/>
<rect x="353.82" y="76.67" width="3.4" height="2.6" fill="none" stroke="#1a1aa8" stroke-width="0.5" opacity="0.7"/>
<rect x="353.02" y="73.47" width="5" height="3.2" fill="#1c1cff"/>
<rect x="354.02" y="74.57" width="3" height="1" fill="#7a7aff"/>
<rect x="388.49" y="75.32" width="3.4" height="2.6" fill="none" stroke="#1a1aa8" stroke-width="0.5" opacity="0.7"/>
<rect x="387.69" y="72.12" width="5" height="3.2" fill="#1c1cff"/>
<rect x="388.69" y="73.22" width="3" height="1" fill="#7a7aff"/>
<rect x="390.18" y="76.16" width="3.4" height="2.6" fill="none" stroke="#1a1aa8" stroke-width="0.5" opacity="0.7"/>
<rect x="389.38" y="72.96" width="5" height="3.2" fill="#1c1cff"/>
<rect x="390.38" y="74.06" width="3" height="1" fill="#7a7aff"/>
<rect x="396.37" y="9.36" width="3.4" height="2.6" fill="none" stroke="#1a1aa8" stroke-width="0.5" opacity="0.7"/>
<rect x="395.57" y="6.16" width="5" height="3.2" fill="#1c1cff"/>
<rect x="396.57" y="7.26" width="3" height="1" fill="#7a7aff"/>
<rect x="401.45" y="13.08" width="3.4" height="2.6" fill="none" stroke="#1a1aa8" stroke-width="0.5" opacity="0.7"/>
<rect x="400.65" y="9.88" width="5" height="3.2" fill="#1c1cff"/>
<rect x="401.65" y="10.98" width="3" height="1" fill="#7a7aff"/>
<rect x="408.21" y="16.97" width="3.4" height="2.6" fill="none" stroke="#1a1aa8" stroke-width="0.5" opacity="0.7"/>
<rect x="407.41" y="13.77" width="5" height="3.2" fill="#1c1cff"/>
<rect x="408.41" y="14.87" width="3" height="1" fill="#7a7aff"/>
<rect x="423.44" y="9.36" width="3.4" height="2.6" fill="none" stroke="#1a1aa8" stroke-width="0.5" opacity="0.7"/>
<rect x="422.64" y="6.16" width="5" height="3.2" fill="#1c1cff"/>
<rect x="423.64" y="7.26" width="3" height="1" fill="#7a7aff"/>
<rect x="434.43" y="10.2" width="3.4" height="2.6" fill="none" stroke="#1a1aa8" stroke-width="0.5" opacity="0.7"/>
<rect x="433.63" y="7" width="5" height="3.2" fill="#1c1cff"/>
<rect x="434.63" y="8.1" width="3" height="1" fill="#7a7aff"/>
<rect x="444.58" y="7.33" width="3.4" height="2.6" fill="none" stroke="#1a1aa8" stroke-width="0.5" opacity="0.7"/>
<rect x="443.78" y="4.13" width="5" height="3.2" fill="#1c1cff"/>
<rect x="444.78" y="5.23" width="3" height="1" fill="#7a7aff"/>
<rect x="401.45" y="27.12" width="3.4" height="2.6" fill="none" stroke="#1a1aa8" stroke-width="0.5" opacity="0.7"/>
<rect x="400.65" y="23.92" width="5" height="3.2" fill="#1c1cff"/>
<rect x="401.65" y="25.02" width="3" height="1" fill="#7a7aff"/>
<rect x="393.84" y="31.68" width="3.4" height="2.6" fill="none" stroke="#1a1aa8" stroke-width="0.5" opacity="0.7"/>
<rect x="393.04" y="28.48" width="5" height="3.2" fill="#1c1cff"/>
<rect x="394.04" y="29.58" width="3" height="1" fill="#7a7aff"/>
<rect x="446.27" y="36.42" width="3.4" height="2.6" fill="none" stroke="#1a1aa8" stroke-width="0.5" opacity="0.7"/>
<rect x="445.47" y="33.22" width="5" height="3.2" fill="#1c1cff"/>
<rect x="446.47" y="34.32" width="3" height="1" fill="#7a7aff"/>
<rect x="461.49" y="34.39" width="3.4" height="2.6" fill="none" stroke="#1a1aa8" stroke-width="0.5" opacity="0.7"/>
<rect x="460.69" y="31.19" width="5" height="3.2" fill="#1c1cff"/>
<rect x="461.69" y="32.29" width="3" height="1" fill="#7a7aff"/>
<rect x="401.45" y="42.34" width="3.4" height="2.6" fill="none" stroke="#1a1aa8" stroke-width="0.5" opacity="0.7"/>
<rect x="400.65" y="39.14" width="5" height="3.2" fill="#1c1cff"/>
<rect x="401.65" y="40.24" width="3" height="1" fill="#7a7aff"/>
<rect x="395.53" y="51.64" width="3.4" height="2.6" fill="none" stroke="#1a1aa8" stroke-width="0.5" opacity="0.7"/>
<rect x="394.73" y="48.44" width="5" height="3.2" fill="#1c1cff"/>
<rect x="395.73" y="49.54" width="3" height="1" fill="#7a7aff"/>
<rect x="443.73" y="59.76" width="3.4" height="2.6" fill="none" stroke="#1a1aa8" stroke-width="0.5" opacity="0.7"/>
<rect x="442.93" y="56.56" width="5" height="3.2" fill="#1c1cff"/>
<rect x="443.93" y="57.66" width="3" height="1" fill="#7a7aff"/>
<rect x="395.53" y="63.82" width="3.4" height="2.6" fill="none" stroke="#1a1aa8" stroke-width="0.5" opacity="0.7"/>
<rect x="394.73" y="60.62" width="5" height="3.2" fill="#1c1cff"/>
<rect x="395.73" y="61.72" width="3" height="1" fill="#7a7aff"/>
<rect x="414.13" y="75.32" width="3.4" height="2.6" fill="none" stroke="#1a1aa8" stroke-width="0.5" opacity="0.7"/>
<rect x="413.33" y="72.12" width="5" height="3.2" fill="#1c1cff"/>
<rect x="414.33" y="73.22" width="3" height="1" fill="#7a7aff"/>
<rect x="412.44" y="79.55" width="3.4" height="2.6" fill="none" stroke="#1a1aa8" stroke-width="0.5" opacity="0.7"/>
<rect x="411.64" y="76.35" width="5" height="3.2" fill="#1c1cff"/>
<rect x="412.64" y="77.45" width="3" height="1" fill="#7a7aff"/>
<rect x="455.57" y="79.55" width="3.4" height="2.6" fill="none" stroke="#1a1aa8" stroke-width="0.5" opacity="0.7"/>
<rect x="454.77" y="76.35" width="5" height="3.2" fill="#1c1cff"/>
<rect x="455.77" y="77.45" width="3" height="1" fill="#7a7aff"/>
<rect x="353.82" y="76.75" width="3.4" height="2.6" fill="none" stroke="#1a1aa8" stroke-width="0.5" opacity="0.7"/>
<rect x="353.02" y="73.55" width="5" height="3.2" fill="#1c1cff"/>
<rect x="354.02" y="74.65" width="3" height="1" fill="#7a7aff"/>
<rect x="355.51" y="83.51" width="3.4" height="2.6" fill="none" stroke="#1a1aa8" stroke-width="0.5" opacity="0.7"/>
<rect x="354.71" y="80.31" width="5" height="3.2" fill="#1c1cff"/>
<rect x="355.71" y="81.41" width="3" height="1" fill="#7a7aff"/>
<rect x="370.73" y="76.75" width="3.4" height="2.6" fill="none" stroke="#1a1aa8" stroke-width="0.5" opacity="0.7"/>
<rect x="369.93" y="73.55" width="5" height="3.2" fill="#1c1cff"/>
<rect x="370.93" y="74.65" width="3" height="1" fill="#7a7aff"/>
<rect x="387.64" y="76.75" width="3.4" height="2.6" fill="none" stroke="#1a1aa8" stroke-width="0.5" opacity="0.7"/>
<rect x="386.84" y="73.55" width="5" height="3.2" fill="#1c1cff"/>
<rect x="387.84" y="74.65" width="3" height="1" fill="#7a7aff"/>
<rect x="347.9" y="106.01" width="3.4" height="2.6" fill="none" stroke="#1a1aa8" stroke-width="0.5" opacity="0.7"/>
<rect x="347.1" y="102.81" width="5" height="3.2" fill="#1c1cff"/>
<rect x="348.1" y="103.91" width="3" height="1" fill="#7a7aff"/>
<rect x="381.72" y="109.39" width="3.4" height="2.6" fill="none" stroke="#1a1aa8" stroke-width="0.5" opacity="0.7"/>
<rect x="380.92" y="106.19" width="5" height="3.2" fill="#1c1cff"/>
<rect x="381.92" y="107.29" width="3" height="1" fill="#7a7aff"/>
<rect x="374.62" y="115.65" width="3.4" height="2.6" fill="none" stroke="#1a1aa8" stroke-width="0.5" opacity="0.7"/>
<rect x="373.82" y="112.45" width="5" height="3.2" fill="#1c1cff"/>
<rect x="374.82" y="113.55" width="3" height="1" fill="#7a7aff"/>
<rect x="383.42" y="115.65" width="3.4" height="2.6" fill="none" stroke="#1a1aa8" stroke-width="0.5" opacity="0.7"/>
<rect x="382.62" y="112.45" width="5" height="3.2" fill="#1c1cff"/>
<rect x="383.62" y="113.55" width="3" height="1" fill="#7a7aff"/>
<rect x="326.42" y="120.72" width="3.4" height="2.6" fill="none" stroke="#1a1aa8" stroke-width="0.5" opacity="0.7"/>
<rect x="325.62" y="117.52" width="5" height="3.2" fill="#1c1cff"/>
<rect x="326.62" y="118.62" width="3" height="1" fill="#7a7aff"/>
<rect x="342.82" y="123.26" width="3.4" height="2.6" fill="none" stroke="#1a1aa8" stroke-width="0.5" opacity="0.7"/>
<rect x="342.02" y="120.06" width="5" height="3.2" fill="#1c1cff"/>
<rect x="343.02" y="121.16" width="3" height="1" fill="#7a7aff"/>
<rect x="347.05" y="135.94" width="3.4" height="2.6" fill="none" stroke="#1a1aa8" stroke-width="0.5" opacity="0.7"/>
<rect x="346.25" y="132.74" width="5" height="3.2" fill="#1c1cff"/>
<rect x="347.25" y="133.84" width="3" height="1" fill="#7a7aff"/>
<rect x="357.71" y="141.86" width="3.4" height="2.6" fill="none" stroke="#1a1aa8" stroke-width="0.5" opacity="0.7"/>
<rect x="356.91" y="138.66" width="5" height="3.2" fill="#1c1cff"/>
<rect x="357.91" y="139.76" width="3" height="1" fill="#7a7aff"/>
<rect x="412.44" y="80.13" width="3.4" height="2.6" fill="none" stroke="#1a1aa8" stroke-width="0.5" opacity="0.7"/>
<rect x="411.64" y="76.93" width="5" height="3.2" fill="#1c1cff"/>
<rect x="412.64" y="78.03" width="3" height="1" fill="#7a7aff"/>
<rect x="455.57" y="80.13" width="3.4" height="2.6" fill="none" stroke="#1a1aa8" stroke-width="0.5" opacity="0.7"/>
<rect x="454.77" y="76.93" width="5" height="3.2" fill="#1c1cff"/>
<rect x="455.77" y="78.03" width="3" height="1" fill="#7a7aff"/>
<rect x="421.74" y="86.89" width="3.4" height="2.6" fill="none" stroke="#1a1aa8" stroke-width="0.5" opacity="0.7"/>
<rect x="420.94" y="83.69" width="5" height="3.2" fill="#1c1cff"/>
<rect x="421.94" y="84.79" width="3" height="1" fill="#7a7aff"/>
<rect x="447.11" y="96.53" width="3.4" height="2.6" fill="none" stroke="#1a1aa8" stroke-width="0.5" opacity="0.7"/>
<rect x="446.31" y="93.33" width="5" height="3.2" fill="#1c1cff"/>
<rect x="447.31" y="94.43" width="3" height="1" fill="#7a7aff"/>
<rect x="460.64" y="98.23" width="3.4" height="2.6" fill="none" stroke="#1a1aa8" stroke-width="0.5" opacity="0.7"/>
<rect x="459.84" y="95.03" width="5" height="3.2" fill="#1c1cff"/>
<rect x="460.84" y="96.13" width="3" height="1" fill="#7a7aff"/>
<rect x="442.04" y="105.5" width="3.4" height="2.6" fill="none" stroke="#1a1aa8" stroke-width="0.5" opacity="0.7"/>
<rect x="441.24" y="102.3" width="5" height="3.2" fill="#1c1cff"/>
<rect x="442.24" y="103.4" width="3" height="1" fill="#7a7aff"/>
<rect x="440.35" y="108.88" width="3.4" height="2.6" fill="none" stroke="#1a1aa8" stroke-width="0.5" opacity="0.7"/>
<rect x="439.55" y="105.68" width="5" height="3.2" fill="#1c1cff"/>
<rect x="440.55" y="106.78" width="3" height="1" fill="#7a7aff"/>
<rect x="426.82" y="108.37" width="3.4" height="2.6" fill="none" stroke="#1a1aa8" stroke-width="0.5" opacity="0.7"/>
<rect x="426.02" y="105.17" width="5" height="3.2" fill="#1c1cff"/>
<rect x="427.02" y="106.27" width="3" height="1" fill="#7a7aff"/>
<rect x="401.45" y="109.73" width="3.4" height="2.6" fill="none" stroke="#1a1aa8" stroke-width="0.5" opacity="0.7"/>
<rect x="400.65" y="106.53" width="5" height="3.2" fill="#1c1cff"/>
<rect x="401.65" y="107.63" width="3" height="1" fill="#7a7aff"/>
<rect x="459.8" y="110.06" width="3.4" height="2.6" fill="none" stroke="#1a1aa8" stroke-width="0.5" opacity="0.7"/>
<rect x="459" y="106.86" width="5" height="3.2" fill="#1c1cff"/>
<rect x="460" y="107.96" width="3" height="1" fill="#7a7aff"/>
<rect x="408.21" y="135.94" width="3.4" height="2.6" fill="none" stroke="#1a1aa8" stroke-width="0.5" opacity="0.7"/>
<rect x="407.41" y="132.74" width="5" height="3.2" fill="#1c1cff"/>
<rect x="408.41" y="133.84" width="3" height="1" fill="#7a7aff"/>
<rect x="421.74" y="134.25" width="3.4" height="2.6" fill="none" stroke="#1a1aa8" stroke-width="0.5" opacity="0.7"/>
<rect x="420.94" y="131.05" width="5" height="3.2" fill="#1c1cff"/>
<rect x="421.94" y="132.15" width="3" height="1" fill="#7a7aff"/>
<rect x="334.38" y="8.46" width="7.61" height="9.3" fill="none" stroke="#c81850" stroke-width="0.8"/>
<rect x="334.08" y="5.36" width="7.5" height="3.3" fill="#ff2020"/>
<rect x="332.68" y="16.07" width="3.72" height="4.23" fill="none" stroke="#c81850" stroke-width="0.8"/>
<rect x="332.38" y="12.97" width="4.32" height="3.3" fill="#ff2020"/>
<rect x="338.94" y="42.28" width="6.43" height="6.43" fill="none" stroke="#c81850" stroke-width="0.8"/>
<rect x="338.64" y="39.18" width="7.03" height="3.3" fill="#ff2020"/>
<rect x="380.55" y="49.05" width="7.95" height="8.12" fill="none" stroke="#c81850" stroke-width="0.8"/>
<rect x="380.25" y="45.95" width="7.5" height="3.3" fill="#ff2020"/>
<rect x="383.42" y="69.34" width="4.23" height="4.23" fill="none" stroke="#c81850" stroke-width="0.8"/>
<rect x="383.12" y="66.24" width="4.83" height="3.3" fill="#ff2020"/>
<rect x="387.65" y="72.73" width="4.23" height="4.23" fill="none" stroke="#c81850" stroke-width="0.8"/>
<rect x="387.35" y="69.63" width="4.83" height="3.3" fill="#ff2020"/>
<rect x="401.46" y="23.68" width="4.23" height="4.23" fill="none" stroke="#c81850" stroke-width="0.8"/>
<rect x="401.16" y="20.58" width="4.83" height="3.3" fill="#ff2020"/>
<rect x="385.12" y="116.95" width="3.38" height="3.72" fill="none" stroke="#c81850" stroke-width="0.8"/>
<rect x="384.82" y="113.85" width="3.98" height="3.3" fill="#ff2020"/>
<rect x="441.2" y="128.78" width="4.57" height="4.57" fill="none" stroke="#c81850" stroke-width="0.8"/>
<rect x="440.9" y="125.68" width="5.17" height="3.3" fill="#ff2020"/>
<rect x="455.24" y="133.01" width="4.06" height="4.57" fill="none" stroke="#c81850" stroke-width="0.8"/>
<rect x="454.94" y="129.91" width="4.66" height="3.3" fill="#ff2020"/>
<line x1="163.7" y1="340.8" x2="163.7" y2="346.5" stroke="#c8c8c8" stroke-width="0.8"/>
<line x1="168.2" y1="349" x2="168.2" y2="361" stroke="#c8c8c8" stroke-width="0.8"/>
<line x1="172" y1="360" x2="172" y2="371" stroke="#c8c8c8" stroke-width="0.8"/>
<line x1="175.5" y1="367" x2="175.5" y2="382" stroke="#c8c8c8" stroke-width="0.8"/>
<line x1="178.5" y1="378" x2="178.5" y2="396" stroke="#c8c8c8" stroke-width="0.8"/>
<line x1="181.3" y1="388" x2="181.3" y2="410" stroke="#c8c8c8" stroke-width="0.8"/>
<line x1="183.6" y1="395" x2="183.6" y2="415.5" stroke="#c8c8c8" stroke-width="0.8"/>
<line x1="185.8" y1="399" x2="185.8" y2="422.5" stroke="#c8c8c8" stroke-width="0.8"/>
<line x1="187.9" y1="404" x2="187.9" y2="430.5" stroke="#c8c8c8" stroke-width="0.8"/>
<line x1="194.8" y1="408.5" x2="194.8" y2="441.6" stroke="#c8c8c8" stroke-width="0.8"/>
<line x1="199.1" y1="416.5" x2="199.1" y2="461.5" stroke="#c8c8c8" stroke-width="0.8"/>
<line x1="204.5" y1="429.5" x2="204.5" y2="492" stroke="#c8c8c8" stroke-width="0.8"/>
<rect x="63.5" y="198.5" width="235" height="294" fill="none" stroke="#454545" stroke-width="1"/>
<path d="M81.19 492.5v-2.3M81.19 198.5v2.3M91.53 492.5v-2.3M91.53 198.5v2.3M98.87 492.5v-2.3M98.87 198.5v2.3M104.56 492.5v-2.3M104.56 198.5v2.3M109.22 492.5v-2.3M109.22 198.5v2.3M113.15 492.5v-2.3M113.15 198.5v2.3M116.56 492.5v-2.3M116.56 198.5v2.3M119.56 492.5v-2.3M119.56 198.5v2.3M122.25 492.5v-5M122.25 198.5v5M139.94 492.5v-2.3M139.94 198.5v2.3M150.28 492.5v-2.3M150.28 198.5v2.3M157.62 492.5v-2.3M157.62 198.5v2.3M163.31 492.5v-2.3M163.31 198.5v2.3M167.97 492.5v-2.3M167.97 198.5v2.3M171.9 492.5v-2.3M171.9 198.5v2.3M175.31 492.5v-2.3M175.31 198.5v2.3M178.31 492.5v-2.3M178.31 198.5v2.3M181 492.5v-5M181 198.5v5M198.69 492.5v-2.3M198.69 198.5v2.3M209.03 492.5v-2.3M209.03 198.5v2.3M216.37 492.5v-2.3M216.37 198.5v2.3M222.06 492.5v-2.3M222.06 198.5v2.3M226.72 492.5v-2.3M226.72 198.5v2.3M230.65 492.5v-2.3M230.65 198.5v2.3M234.06 492.5v-2.3M234.06 198.5v2.3M237.06 492.5v-2.3M237.06 198.5v2.3M239.75 492.5v-5M239.75 198.5v5M257.44 492.5v-2.3M257.44 198.5v2.3M267.78 492.5v-2.3M267.78 198.5v2.3M275.12 492.5v-2.3M275.12 198.5v2.3M280.81 492.5v-2.3M280.81 198.5v2.3M285.47 492.5v-2.3M285.47 198.5v2.3M289.4 492.5v-2.3M289.4 198.5v2.3M292.81 492.5v-2.3M292.81 198.5v2.3M295.81 492.5v-2.3M295.81 198.5v2.3M63.5 474.8h2.3M298.5 474.8h-2.3M63.5 464.45h2.3M298.5 464.45h-2.3M63.5 457.1h2.3M298.5 457.1h-2.3M63.5 451.4h2.3M298.5 451.4h-2.3M63.5 446.74h2.3M298.5 446.74h-2.3M63.5 442.81h2.3M298.5 442.81h-2.3M63.5 439.4h2.3M298.5 439.4h-2.3M63.5 436.39h2.3M298.5 436.39h-2.3M63.5 433.7h5M298.5 433.7h-5M63.5 416h2.3M298.5 416h-2.3M63.5 405.65h2.3M298.5 405.65h-2.3M63.5 398.3h2.3M298.5 398.3h-2.3M63.5 392.6h2.3M298.5 392.6h-2.3M63.5 387.94h2.3M298.5 387.94h-2.3M63.5 384.01h2.3M298.5 384.01h-2.3M63.5 380.6h2.3M298.5 380.6h-2.3M63.5 377.59h2.3M298.5 377.59h-2.3M63.5 374.9h5M298.5 374.9h-5M63.5 357.2h2.3M298.5 357.2h-2.3M63.5 346.85h2.3M298.5 346.85h-2.3M63.5 339.5h2.3M298.5 339.5h-2.3M63.5 333.8h2.3M298.5 333.8h-2.3M63.5 329.14h2.3M298.5 329.14h-2.3M63.5 325.21h2.3M298.5 325.21h-2.3M63.5 321.8h2.3M298.5 321.8h-2.3M63.5 318.79h2.3M298.5 318.79h-2.3M63.5 316.1h5M298.5 316.1h-5M63.5 298.4h2.3M298.5 298.4h-2.3M63.5 288.05h2.3M298.5 288.05h-2.3M63.5 280.7h2.3M298.5 280.7h-2.3M63.5 275h2.3M298.5 275h-2.3M63.5 270.34h2.3M298.5 270.34h-2.3M63.5 266.41h2.3M298.5 266.41h-2.3M63.5 263h2.3M298.5 263h-2.3M63.5 259.99h2.3M298.5 259.99h-2.3M63.5 257.3h5M298.5 257.3h-5M63.5 239.6h2.3M298.5 239.6h-2.3M63.5 229.25h2.3M298.5 229.25h-2.3M63.5 221.9h2.3M298.5 221.9h-2.3M63.5 216.2h2.3M298.5 216.2h-2.3M63.5 211.54h2.3M298.5 211.54h-2.3M63.5 207.61h2.3M298.5 207.61h-2.3M63.5 204.2h2.3M298.5 204.2h-2.3M63.5 201.19h2.3M298.5 201.19h-2.3" stroke="#454545" stroke-width="1" fill="none"/>
<text x="63.5" y="507.1" font-family="Liberation Sans, sans-serif" fill="#000" font-size="9.9" text-anchor="middle">10 m</text>
<text x="122.25" y="507.1" font-family="Liberation Sans, sans-serif" fill="#000" font-size="9.9" text-anchor="middle">100 m</text>
<text x="181" y="507.1" font-family="Liberation Sans, sans-serif" fill="#000" font-size="9.9" text-anchor="middle">1 km</text>
<text x="239.75" y="507.1" font-family="Liberation Sans, sans-serif" fill="#000" font-size="9.9" text-anchor="middle">10 km</text>
<text x="298.5" y="507.1" font-family="Liberation Sans, sans-serif" fill="#000" font-size="9.9" text-anchor="middle">100 km</text>
<text transform="translate(60.3,205.5) scale(0.84,1)" font-family="Liberation Sans, sans-serif" fill="#000" font-size="10.4" text-anchor="end">10<tspan dx="1.3" dy="-5.4" font-size="6.5">1</tspan></text>
<text transform="translate(60.3,261.2) scale(0.84,1)" font-family="Liberation Sans, sans-serif" fill="#000" font-size="10.4" text-anchor="end">10<tspan dx="1.3" dy="-5.4" font-size="6.5">0</tspan></text>
<text transform="translate(60.3,320) scale(0.84,1)" font-family="Liberation Sans, sans-serif" fill="#000" font-size="10.4" text-anchor="end">10<tspan dx="1.3" dy="-5.4" font-size="6.5">-1</tspan></text>
<text transform="translate(60.3,378.8) scale(0.84,1)" font-family="Liberation Sans, sans-serif" fill="#000" font-size="10.4" text-anchor="end">10<tspan dx="1.3" dy="-5.4" font-size="6.5">-2</tspan></text>
<text transform="translate(60.3,437.6) scale(0.84,1)" font-family="Liberation Sans, sans-serif" fill="#000" font-size="10.4" text-anchor="end">10<tspan dx="1.3" dy="-5.4" font-size="6.5">-3</tspan></text>
<text transform="translate(60.3,492.8) scale(0.84,1)" font-family="Liberation Sans, sans-serif" fill="#000" font-size="10.4" text-anchor="end">10<tspan dx="1.3" dy="-5.4" font-size="6.5">-4</tspan></text>
<text x="181" y="520.2" font-family="Liberation Sans, sans-serif" fill="#000" font-size="10" text-anchor="middle">Diameter</text>
<text transform="translate(32.2,347.5) rotate(-90)" font-family="Liberation Sans, sans-serif" fill="#000" font-size="9.85" text-anchor="middle">Cumulative crater density, km<tspan dy="-3.8" font-size="6.2">-2</tspan></text>
<rect x="120.4" y="289.6" width="3.2" height="3.2" fill="none" stroke="#f0c040" stroke-width="0.85"/>
<rect x="122" y="289.6" width="3.2" height="3.2" fill="none" stroke="#f0c040" stroke-width="0.85"/>
<rect x="123.6" y="289.6" width="3.2" height="3.2" fill="none" stroke="#f0c040" stroke-width="0.85"/>
<rect x="125.2" y="289.7" width="3.2" height="3.2" fill="none" stroke="#f0c040" stroke-width="0.85"/>
<rect x="126.8" y="289.8" width="3.2" height="3.2" fill="none" stroke="#f0c040" stroke-width="0.85"/>
<rect x="128.4" y="290" width="3.2" height="3.2" fill="none" stroke="#f0c040" stroke-width="0.85"/>
<rect x="130" y="290.4" width="3.2" height="3.2" fill="none" stroke="#f0c040" stroke-width="0.85"/>
<rect x="131.7" y="291.1" width="3.2" height="3.2" fill="none" stroke="#f0c040" stroke-width="0.85"/>
<rect x="134.4" y="293.4" width="3.2" height="3.2" fill="none" stroke="#f0c040" stroke-width="0.85"/>
<rect x="138.5" y="299.4" width="3.2" height="3.2" fill="none" stroke="#f0c040" stroke-width="0.85"/>
<rect x="144.3" y="305.8" width="3.2" height="3.2" fill="none" stroke="#f0c040" stroke-width="0.85"/>
<rect x="149" y="312.2" width="3.2" height="3.2" fill="none" stroke="#f0c040" stroke-width="0.85"/>
<rect x="152.7" y="318.1" width="3.2" height="3.2" fill="none" stroke="#f0c040" stroke-width="0.85"/>
<rect x="156.1" y="324.9" width="3.2" height="3.2" fill="none" stroke="#f0c040" stroke-width="0.85"/>
<rect x="159.2" y="331.6" width="3.2" height="3.2" fill="none" stroke="#f0c040" stroke-width="0.85"/>
<rect x="162.1" y="341.4" width="3.2" height="3.2" fill="none" stroke="#f0c040" stroke-width="0.85"/>
<rect x="166.6" y="354.6" width="3.2" height="3.2" fill="none" stroke="#f0c040" stroke-width="0.85"/>
<rect x="170.5" y="364.2" width="3.2" height="3.2" fill="none" stroke="#f0c040" stroke-width="0.85"/>
<rect x="174.1" y="371.8" width="3.2" height="3.2" fill="none" stroke="#f0c040" stroke-width="0.85"/>
<rect x="176.7" y="384.8" width="3.2" height="3.2" fill="none" stroke="#f0c040" stroke-width="0.85"/>
<rect x="179.3" y="396.2" width="3.2" height="3.2" fill="none" stroke="#f0c040" stroke-width="0.85"/>
<rect x="182.2" y="400.3" width="3.2" height="3.2" fill="none" stroke="#f0c040" stroke-width="0.85"/>
<rect x="184" y="404.8" width="3.2" height="3.2" fill="none" stroke="#f0c040" stroke-width="0.85"/>
<rect x="193" y="418.1" width="3.2" height="3.2" fill="none" stroke="#f0c040" stroke-width="0.85"/>
<rect x="197.4" y="428.3" width="3.2" height="3.2" fill="none" stroke="#f0c040" stroke-width="0.85"/>
<rect x="202.9" y="446.1" width="3.2" height="3.2" fill="none" stroke="#f0c040" stroke-width="0.85"/>
<circle cx="181.4" cy="385.9" r="1.8" fill="none" stroke="#4a6cf0" stroke-width="0.9"/>
<circle cx="184" cy="397.5" r="1.8" fill="none" stroke="#4a6cf0" stroke-width="0.9"/>
<circle cx="188.4" cy="406.3" r="1.8" fill="none" stroke="#4a6cf0" stroke-width="0.9"/>
<path d="M162 334.9l3.4 3.4M165.4 334.9l-3.4 3.4M166.5 350l3.4 3.4M169.9 350l-3.4 3.4M170.3 360.8l3.4 3.4M173.7 360.8l-3.4 3.4M173.8 367.7l3.4 3.4M177.2 367.7l-3.4 3.4M176.8 380.5l3.4 3.4M180.2 380.5l-3.4 3.4M182.3 395.8l3.4 3.4M185.7 395.8l-3.4 3.4M183.9 404.8l3.4 3.4M187.3 404.8l-3.4 3.4M186.2 410.2l3.4 3.4M189.6 410.2l-3.4 3.4M192.9 418l3.4 3.4M196.3 418l-3.4 3.4M197.3 428.2l3.4 3.4M200.7 428.2l-3.4 3.4M202.8 446l3.4 3.4M206.2 446l-3.4 3.4" stroke="#c82a2a" stroke-width="0.95" fill="none"/>
<rect x="107.8" y="212.4" width="3.4" height="3.4" fill="none" stroke="#f0c030" stroke-width="0.9"/>
<circle cx="109.5" cy="224.7" r="1.8" fill="none" stroke="#4a6cf0" stroke-width="0.9"/>
<path d="M107.8 232.9l3.4 3.4M111.2 232.9l-3.4 3.4" stroke="#cc2828" stroke-width="1.05" fill="none"/>
<text x="119" y="216.7" font-family="Liberation Sans, sans-serif" fill="#000" font-size="7.05">Manual Crater Count, this work, area=1.75x10<tspan dy="-3.3" font-size="4.5">3</tspan><tspan dy="3.3"> km</tspan><tspan dy="-3.3" font-size="4.5">2</tspan></text>
<text x="119" y="227.2" font-family="Liberation Sans, sans-serif" fill="#000" font-size="7.05">Robbins (2019) JGR 124, 871-892, area=1.73x10<tspan dy="-3.3" font-size="4.5">3</tspan><tspan dy="3.3"> km</tspan><tspan dy="-3.3" font-size="4.5">2</tspan></text>
<text x="119" y="237.2" font-family="Liberation Sans, sans-serif" fill="#000" font-size="7.05">YOLOLens5x, area=1.73x10<tspan dy="-3.3" font-size="4.5">3</tspan><tspan dy="3.3"> km</tspan><tspan dy="-3.3" font-size="4.5">2</tspan></text>
</svg>
<div class="cap" style="left:71px;top:159px">(<b>a</b>)</div>
<div class="cap" style="left:229.9px;top:159px">(<b>b</b>)</div>
<div class="cap" style="left:389px;top:159px">(<b>c</b>)</div>
<div class="cap" style="left:159px;top:536px">(<b>d</b>)</div>
</body></html>
